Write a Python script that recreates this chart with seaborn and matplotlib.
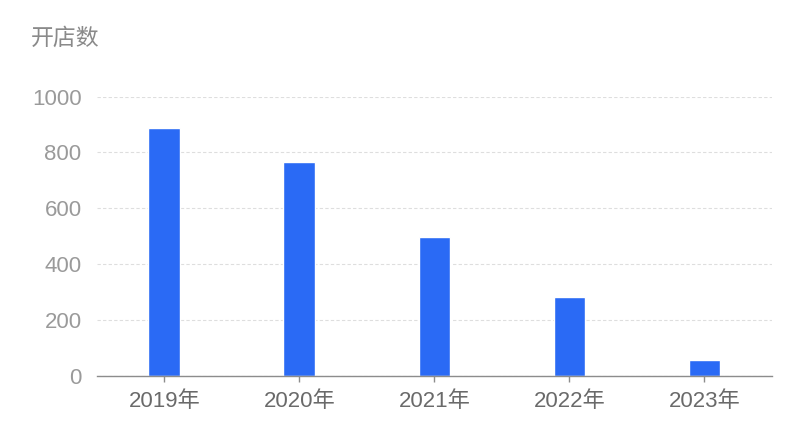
import pandas as pd
import matplotlib
matplotlib.use("Agg")
import matplotlib.pyplot as plt
import seaborn as sns

# data
years = ["2019年", "2020年", "2021年", "2022年", "2023年"]
stores = [889, 765, 498, 283, 56]
y_ticks = [0, 200, 400, 600, 800, 1000]

df = pd.DataFrame({"year": years, "stores": stores})

sns.set_theme(style="white")
plt.rcParams["font.family"] = ["Liberation Sans", "Noto Sans CJK SC", "DejaVu Sans"]

fig = plt.figure(figsize=(8, 4.24), dpi=100)
ax = fig.add_axes([0.121, 0.114, 0.844, 0.658])

sns.barplot(data=df, x="year", y="stores", color="#2a6af5", width=0.235,
            saturation=1, ax=ax, zorder=3)

ax.set_ylim(0, 1000)
ax.set_xlim(-0.5, len(years) - 0.5)
ax.set_yticks(y_ticks)
ax.set_xlabel("")
ax.set_ylabel("")

# dashed light grid
ax.yaxis.grid(True, linestyle=(0, (3, 2)), color="#dedede", linewidth=0.8, zorder=0)
ax.xaxis.grid(False)

for side in ["top", "right", "left"]:
    ax.spines[side].set_visible(False)
ax.spines["bottom"].set_color("#8c8c8c")
ax.spines["bottom"].set_linewidth(1.0)
ax.spines["bottom"].set_zorder(4)

ax.tick_params(axis="y", length=0, pad=11, labelsize=16, labelcolor="#9a9a9a")
ax.tick_params(axis="x", length=4, width=1, color="#8c8c8c", pad=7,
               labelsize=16, labelcolor="#6a6a6a", bottom=True)

fig.text(0.039, 1 - 38 / 424, "开店数", fontsize=16.5, color="#8a8a8a",
         ha="left", va="center", family=["Noto Sans CJK SC", "DejaVu Sans"])

fig.savefig("out.png", dpi=100, facecolor="white")
